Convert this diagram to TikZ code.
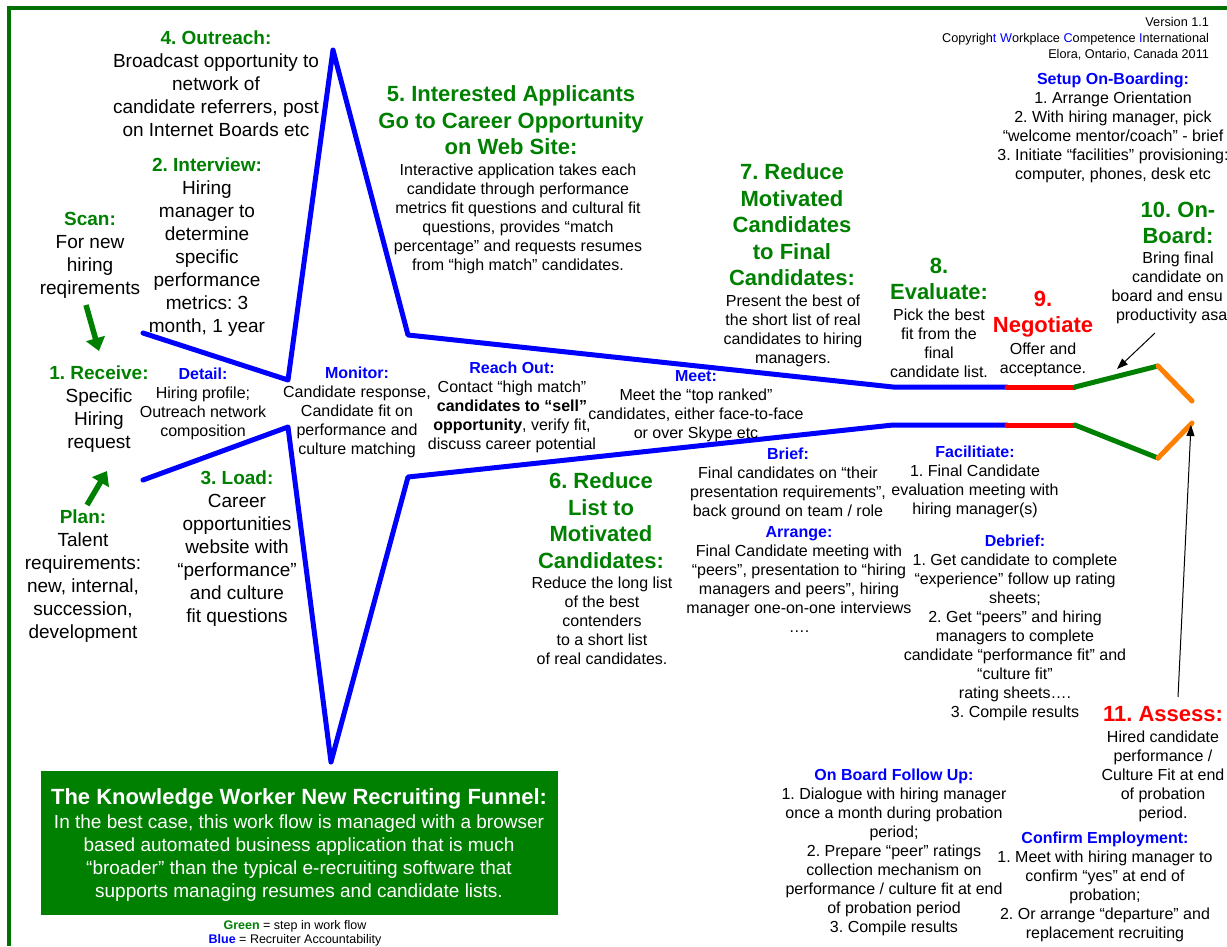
\documentclass[tikz,border=0pt]{standalone}
\usepackage{fontspec}
\setmainfont{Liberation Sans}
\usetikzlibrary{arrows.meta}
\definecolor{stepgreen}{RGB}{0,128,0}
\definecolor{bordergreen}{RGB}{0,112,0}
\definecolor{acctblue}{RGB}{0,0,255}
\definecolor{negred}{RGB}{255,0,0}
\definecolor{onborange}{RGB}{255,128,0}
\newcommand\stephd[1]{\textcolor{stepgreen}{\bfseries #1}}
\newcommand\accthd[1]{\textcolor{acctblue}{\bfseries #1}}
\frenchspacing
\tikzset{
  every node/.style={inner sep=0pt, outer sep=0pt, align=center, anchor=north},
  lbody/.style={font=\fontsize{19}{23}\selectfont},
  sbody/.style={font=\fontsize{16}{19}\selectfont},
  bighead/.style={font=\fontsize{22}{26.5}\selectfont\bfseries},
  small/.style={font=\fontsize{12.7}{16}\selectfont},
  funnel/.style={line width=5pt, line join=round, line cap=round},
  stepbar/.style={line width=5pt, line cap=round, line join=round},
  greenarrow/.style={draw=stepgreen, line width=5.5pt, -{Triangle[length=13pt,width=19pt]}},
  callout/.style={draw=black, line width=1pt, -{Triangle[length=11pt,width=8pt]}},
}
\begin{document}
\frenchspacing
\begin{tikzpicture}[x=1pt,y=-1pt]
\useasboundingbox (0,0) rectangle (1227,946);
% frame
\draw[bordergreen, line width=4pt] (9,946) -- (9,7.5) -- (1227,7.5);

% funnel points
\coordinate (u0) at (143,333); \coordinate (u1) at (288,380);
\coordinate (u2) at (333,50);  \coordinate (u3) at (408,335);
\coordinate (u4) at (893,387); \coordinate (u5) at (1007,387);
\coordinate (u6) at (1075,387); \coordinate (u7) at (1158,366);
\coordinate (u8) at (1192,401);
\coordinate (l0) at (143,480); \coordinate (l1) at (288,427);
\coordinate (l2) at (331,762); \coordinate (l3) at (408,477);
\coordinate (l4) at (893,425); \coordinate (l5) at (1007,425);
\coordinate (l6) at (1075,425); \coordinate (l7) at (1158,458);
\coordinate (l8) at (1192,423);

\draw[funnel, acctblue] (u0) -- (u1) -- (u2) -- (u3) -- (u4) -- (u5);
\draw[funnel, acctblue] (l0) -- (l1) -- (l2) -- (l3) -- (l4) -- (l5);
\draw[stepbar, negred] (u5) -- (u6);
\draw[stepbar, negred] (l5) -- (l6);
\draw[stepbar, stepgreen] (u6) -- (u7);
\draw[stepbar, stepgreen] (l6) -- (l7);
\draw[stepbar, onborange] (u7) -- (u8);
\draw[stepbar, onborange] (l7) -- (l8);

% header
\node[small, anchor=north east, align=right] (hdr) at (1209,17)
  {Version 1.1\\Copyrigh\textcolor{acctblue}{t W}orkplace \textcolor{acctblue}{C}ompetence \textcolor{acctblue}{I}nternational\\Elora, Ontario, Canada 2011};

\node[sbody] (setup) at (1113,73)
  {\accthd{Setup On-Boarding:}\\1. Arrange Orientation\\2. With hiring manager, pick\\“welcome mentor/coach” - brief\\3. Initiate “facilities” provisioning:\\computer, phones, desk etc};

% left blocks
\node[lbody] (out4) at (216,31)
  {\stephd{4. Outreach:}\\Broadcast opportunity to\\network of\\candidate referrers, post\\on Internet Boards etc};
\node[lbody] (intv2) at (207,158)
  {\stephd{2. Interview:}\\Hiring\\manager to\\determine\\specific\\performance\\metrics: 3\\month, 1 year};
\node[lbody] (scan) at (90,212)
  {\stephd{Scan:}\\For new\\hiring\\reqirements};
\node[lbody] (recv) at (99,366)
  {\stephd{1. Receive:}\\Specific\\Hiring\\request};
\node[lbody] (plan) at (83,510)
  {\stephd{Plan:}\\Talent\\requirements:\\new, internal,\\succession,\\development};
\node[lbody] (load) at (237,471)
  {\stephd{3. Load:}\\Career\\opportunities\\website with\\“performance”\\and culture\\fit questions};

% blue accountability blocks
\node[sbody] (detail) at (203,368)
  {\accthd{Detail:}\\Hiring profile;\\Outreach network\\composition};
\node[sbody] (monitor) at (357,367)
  {\accthd{Monitor:}\\Candidate response,\\Candidate fit on\\performance and\\culture matching};
\node[sbody] (reach) at (512,362)
  {\accthd{Reach Out:}\\Contact “high match”\\\textbf{candidates to “sell”}\\\textbf{opportunity}, verify fit,\\discuss career potential};
\node[sbody] (meet) at (696,370)
  {\accthd{Meet:}\\Meet the “top ranked”\\candidates, either face-to-face\\or over Skype etc};
\node[sbody] (brief) at (788,448)
  {\accthd{Brief:}\\Final candidates on “their\\presentation requirements”,\\back ground on team / role};
\node[sbody] (arrange) at (799,526)
  {\accthd{Arrange:}\\Final Candidate meeting with\\“peers”, presentation to “hiring\\managers and peers”, hiring\\manager one-on-one interviews\\…. };
\node[sbody] (facil) at (975,446)
  {\accthd{Facilitiate:}\\1. Final Candidate\\evaluation meeting with\\hiring manager(s)};
\node[sbody] (debrief) at (1015,535)
  {\accthd{Debrief:}\\1. Get candidate to complete\\“experience” follow up rating\\sheets;\\2. Get “peers” and hiring\\managers to complete\\candidate “performance fit” and\\“culture fit”\\rating sheets….\\3. Compile results};
\node[sbody] (obfu) at (894,769)
  {\accthd{On Board Follow Up:}\\1. Dialogue with hiring manager\\once a month during probation\\period;\\2. Prepare “peer” ratings\\collection mechanism on\\performance / culture fit at end\\of probation period\\3. Compile results};
\node[sbody] (confirm) at (1105,832)
  {\accthd{Confirm Employment:}\\1. Meet with hiring manager to\\confirm “yes” at end of\\probation;\\2. Or arrange “departure” and\\replacement recruiting};

% big step headings
\node[bighead, text=stepgreen] (int5h) at (511,86)
  {5. Interested Applicants\\Go to Career Opportunity\\on Web Site:};
\node[sbody] (int5b) at (518,164)
  {Interactive application takes each\\candidate through performance\\metrics fit questions and cultural fit\\questions, provides “match\\percentage” and requests resumes\\from “high match” candidates.};
\node[bighead, text=stepgreen] (red7h) at (792,164)
  {7. Reduce\\Motivated\\Candidates\\to Final\\Candidates:};
\node[sbody] (red7b) at (793,295)
  {Present the best of\\the short list of real\\candidates to hiring\\managers.};
\node[bighead, text=stepgreen] (ev8h) at (939,258) {8.\\Evaluate:};
\node[sbody] (ev8b) at (939,309)
  {Pick the best\\fit from the\\final\\candidate list.};
\node[bighead, text=negred] (neg9h) at (1043,291) {9.\\Negotiate};
\node[sbody] (neg9b) at (1043,343) {Offer and\\acceptance.};
\node[bighead, text=stepgreen] (ob10h) at (1178,202) {10. On-\\Board:};
\node[sbody] (ob10b) at (1178,252)
  {Bring final\\candidate on\\\makebox[133pt][l]{board and ensu}\\\makebox[124pt][l]{productivity asa}};
\node[bighead, text=stepgreen] (red6h) at (601,473)
  {6. Reduce\\List to\\Motivated\\Candidates:};
\node[sbody] (red6b) at (602,577)
  {Reduce the long list\\of the best\\contenders\\to a short list\\of real candidates.};
\node[bighead, text=negred] (ass11h) at (1163,706) {11. Assess:};
\node[sbody] (ass11b) at (1163,731)
  {Hired candidate\\performance /\\Culture Fit at end\\of probation\\period.};

% arrows
\coordinate (scantail) at (86,305);  \coordinate (scantip) at (99,351);
\coordinate (plantail) at (87,505);  \coordinate (plantip) at (107,471);
\draw[greenarrow] (scantail) -- (scantip);
\draw[greenarrow] (plantail) -- (plantip);
\coordinate (ob10tail) at (1155,333); \coordinate (ob10tip) at (1117,369);
\coordinate (ass11tail) at (1178,697); \coordinate (ass11tip) at (1191,425);
\draw[callout] (ob10tail) -- (ob10tip);
\draw[callout] (ass11tail) -- (ass11tip);

% summary box
\node[fill=stepgreen, minimum width=517pt, minimum height=144pt, anchor=center] (funnelbox) at (299.5,843) {};
\node[font=\fontsize{22}{26}\selectfont\bfseries, text=white] (boxtitle) at (299,789)
  {The Knowledge Worker New Recruiting Funnel:};
\node[lbody, text=white] (boxbody) at (299,815)
  {In the best case, this work flow is managed with a browser\\based automated business application that is much\\“broader” than the typical e-recruiting software that\\supports managing resumes and candidate lists.};

% legend
\node[font=\fontsize{12.5}{14}\selectfont] (legend) at (295,920)
  {\textcolor{stepgreen}{\bfseries Green} = step in work flow\\\textcolor{acctblue}{\bfseries Blue} = Recruiter Accountability};
\end{tikzpicture}
\end{document}
